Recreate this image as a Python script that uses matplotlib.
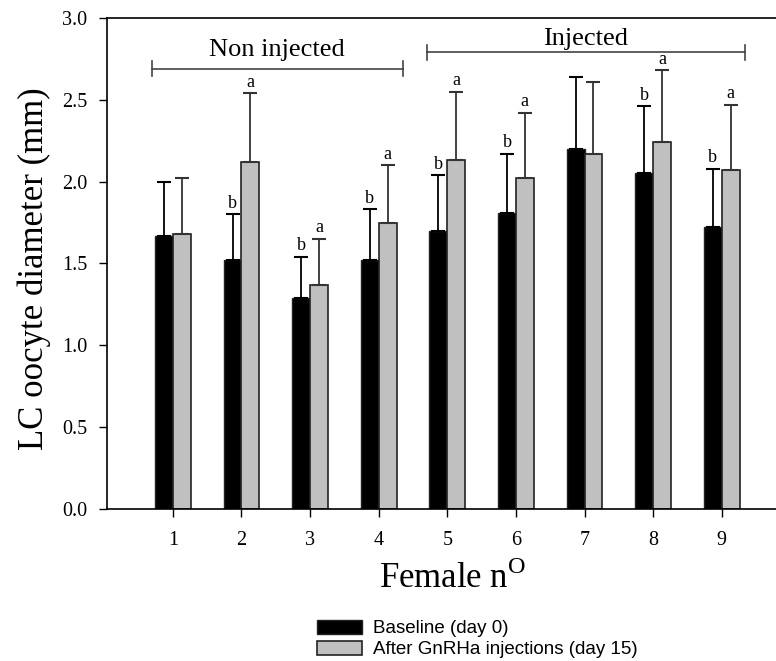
import matplotlib
matplotlib.use('Agg')
import matplotlib.pyplot as plt
import numpy as np

# ------------------------------------------------------------
# data : LC oocyte diameter (mm) per female
# ------------------------------------------------------------
females = ['1', '2', '3', '4', '5', '6', '7', '8', '9']

baseline_mean = [1.67, 1.52, 1.29, 1.52, 1.70, 1.81, 2.20, 2.05, 1.72]
baseline_upper = [2.00, 1.80, 1.54, 1.83, 2.04, 2.17, 2.64, 2.46, 2.08]

after_mean = [1.68, 2.12, 1.37, 1.75, 2.13, 2.02, 2.17, 2.24, 2.07]
after_upper = [2.02, 2.54, 1.65, 2.10, 2.55, 2.42, 2.61, 2.68, 2.47]

sig_baseline = ['', 'b', 'b', 'b', 'b', 'b', '', 'b', 'b']
sig_after = ['', 'a', 'a', 'a', 'a', 'a', '', 'a', 'a']

series_labels = ['Baseline (day 0)', 'After GnRHa injections (day 15)']

# group brackets: (label, x start, x end, bracket y, label baseline y)
groups = [('Non injected', 0.69, 4.35, 2.69, 2.767),
          ('Injected', 4.70, 9.34, 2.79, 2.834)]

serif = ['Liberation Serif', 'DejaVu Serif']

# ------------------------------------------------------------
# figure
# ------------------------------------------------------------
fig = plt.figure(figsize=(7.76, 6.61), dpi=100)
ax = fig.add_axes([0.1379, 0.23, 0.8621, 0.7428])

x = np.arange(1, len(females) + 1)
w = 0.26

base_color = 'black'
after_color = '#c0c0c0'

ax.bar(x - w / 2, baseline_mean, w, color=base_color, edgecolor='#222222',
       linewidth=1, label=series_labels[0], zorder=2)
ax.bar(x + w / 2, after_mean, w, color=after_color, edgecolor='#222222',
       linewidth=1.2, label=series_labels[1], zorder=2)

# upper error bars only
b_mean = np.array(baseline_mean)
a_mean = np.array(after_mean)
b_err = np.array(baseline_upper) - b_mean
a_err = np.array(after_upper) - a_mean

ax.errorbar(x - w / 2, b_mean, yerr=[np.zeros_like(b_err), b_err], fmt='none',
            ecolor='black', elinewidth=1.3, capsize=5, capthick=1.5, zorder=3)
ax.errorbar(x + w / 2, a_mean, yerr=[np.zeros_like(a_err), a_err], fmt='none',
            ecolor='#333333', elinewidth=1.3, capsize=5, capthick=1.5, zorder=3)

# significance letters
for i in range(len(females)):
    if sig_baseline[i]:
        ax.text(x[i] - w / 2, baseline_upper[i] + 0.015, sig_baseline[i],
                ha='center', va='bottom', fontsize=13, family=serif)
    if sig_after[i]:
        ax.text(x[i] + w / 2, after_upper[i] + 0.015, sig_after[i],
                ha='center', va='bottom', fontsize=13, family=serif)

# group brackets
for label, x0, x1, yb, yt in groups:
    ax.plot([x0, x1], [yb, yb], color='#444444', lw=1.2)
    ax.plot([x0, x0], [yb - 0.045, yb + 0.045], color='#444444', lw=1.2)
    ax.plot([x1, x1], [yb - 0.045, yb + 0.045], color='#444444', lw=1.2)
    ax.text((x0 + x1) / 2, yt, label, ha='center', va='baseline',
            fontsize=19, family=serif)

# axes
ax.set_xlim(0.04, 9.79)
ax.set_ylim(0, 3.0)
ax.set_xticks(x)
ax.set_xticklabels(females)
ax.set_yticks(np.arange(0, 3.01, 0.5))
ax.set_yticklabels([f'{v:.1f}' for v in np.arange(0, 3.01, 0.5)])
ax.tick_params(direction='out', length=6, width=1, labelsize=14.5)
ax.tick_params(axis='x', pad=10)
ax.tick_params(axis='y', pad=8)
for t in ax.get_xticklabels() + ax.get_yticklabels():
    t.set_family(serif)

ax.spines['right'].set_visible(False)
for s in ['left', 'bottom', 'top']:
    ax.spines[s].set_linewidth(1.2)

ax.set_ylabel('LC oocyte diameter (mm)', fontsize=25, family=serif)
ax.yaxis.set_label_coords(-0.084, 0.489)
ax.set_xlabel(r'Female n$^{\mathregular{O}}$', fontsize=25, family=serif)
ax.xaxis.set_label_coords(0.5165, -0.106)

# legend
fig.legend(loc='upper left', bbox_to_anchor=(0.397, 0.0765), frameon=False,
           prop={'family': ['Liberation Sans', 'DejaVu Sans'], 'size': 13.5},
           handlelength=2.35, handleheight=0.75, handletextpad=0.6,
           labelspacing=0.2, borderpad=0)

fig.patch.set_facecolor('white')
fig.savefig('out.png', dpi=100)
